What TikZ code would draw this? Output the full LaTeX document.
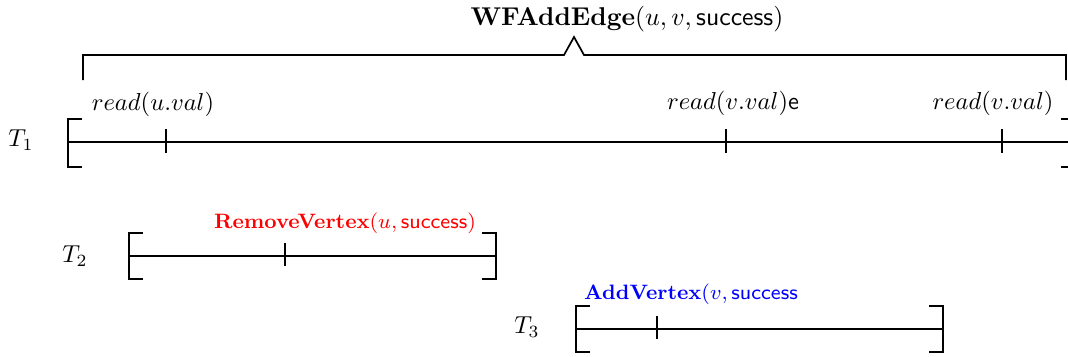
\RequirePackage{fix-cm}
\documentclass[tikz,border=0pt]{standalone}
\usepackage{xcolor}
\begin{document}
\begin{tikzpicture}[x=0.408pt,y=-0.408pt,
  tl/.style={line width=0.7pt},
  lbl/.style={inner sep=0pt, anchor=center},
  opl/.style={inner sep=0pt, anchor=center, font=\fontsize{8.5}{10}\selectfont}]
\useasboundingbox (0,0) rectangle (1068,356);
\clip (0,0) rectangle (1068,356);
% T1
\coordinate (t1l) at (68,142);
\coordinate (t1r) at (1070,142);
\draw[tl] (t1l) -- (t1r);
\draw[tl] (82,119) -- (68,119) -- (68,167) -- (82,167);
\draw[tl] (1061,119) -- (1069,119) -- (1069,167) -- (1061,167);
\draw[tl] (166,129) -- (166,153);
\draw[tl] (726,129) -- (726,153);
\draw[tl] (1002,129) -- (1002,153);
\node[lbl] (T1) at (21,140) {$T_1$};
\node[lbl] (r1) at (153,104) {$read(u.val)$};
\node[lbl] (r2) at (733,103) {$read(v.val)$\textsf{e}};
\node[lbl] (r3) at (993,103) {$read(v.val)$};
% brace
\draw[tl] (83,80) -- (83,55) -- (564,55) -- (574,37) -- (584,55) -- (1066,55) -- (1066,80);
\node[lbl, font=\fontsize{10.5}{12}\selectfont] (title) at (627,19) {\textbf{WFAddEdge}$(u,v,\mathsf{success})$};
% T2
\draw[tl] (129,256) -- (496,256);
\draw[tl] (143,233) -- (129,233) -- (129,279) -- (143,279);
\draw[tl] (482,233) -- (496,233) -- (496,279) -- (482,279);
\draw[tl] (285,243) -- (285,266);
\node[lbl] (T2) at (75,256) {$T_2$};
\node[opl,text=red] (rv) at (345,223) {\textbf{RemoveVertex}$(u,\mathsf{success})$};
% T3
\draw[tl] (576,329) -- (943,329);
\draw[tl] (590,306) -- (576,306) -- (576,352) -- (590,352);
\draw[tl] (929,306) -- (943,306) -- (943,352) -- (929,352);
\draw[tl] (657,316) -- (657,339);
\node[lbl] (T3) at (527,327) {$T_3$};
\node[opl,text=blue] (av) at (691,294) {\textbf{AddVertex}$(v,\mathsf{success}$};
\end{tikzpicture}
\end{document}
